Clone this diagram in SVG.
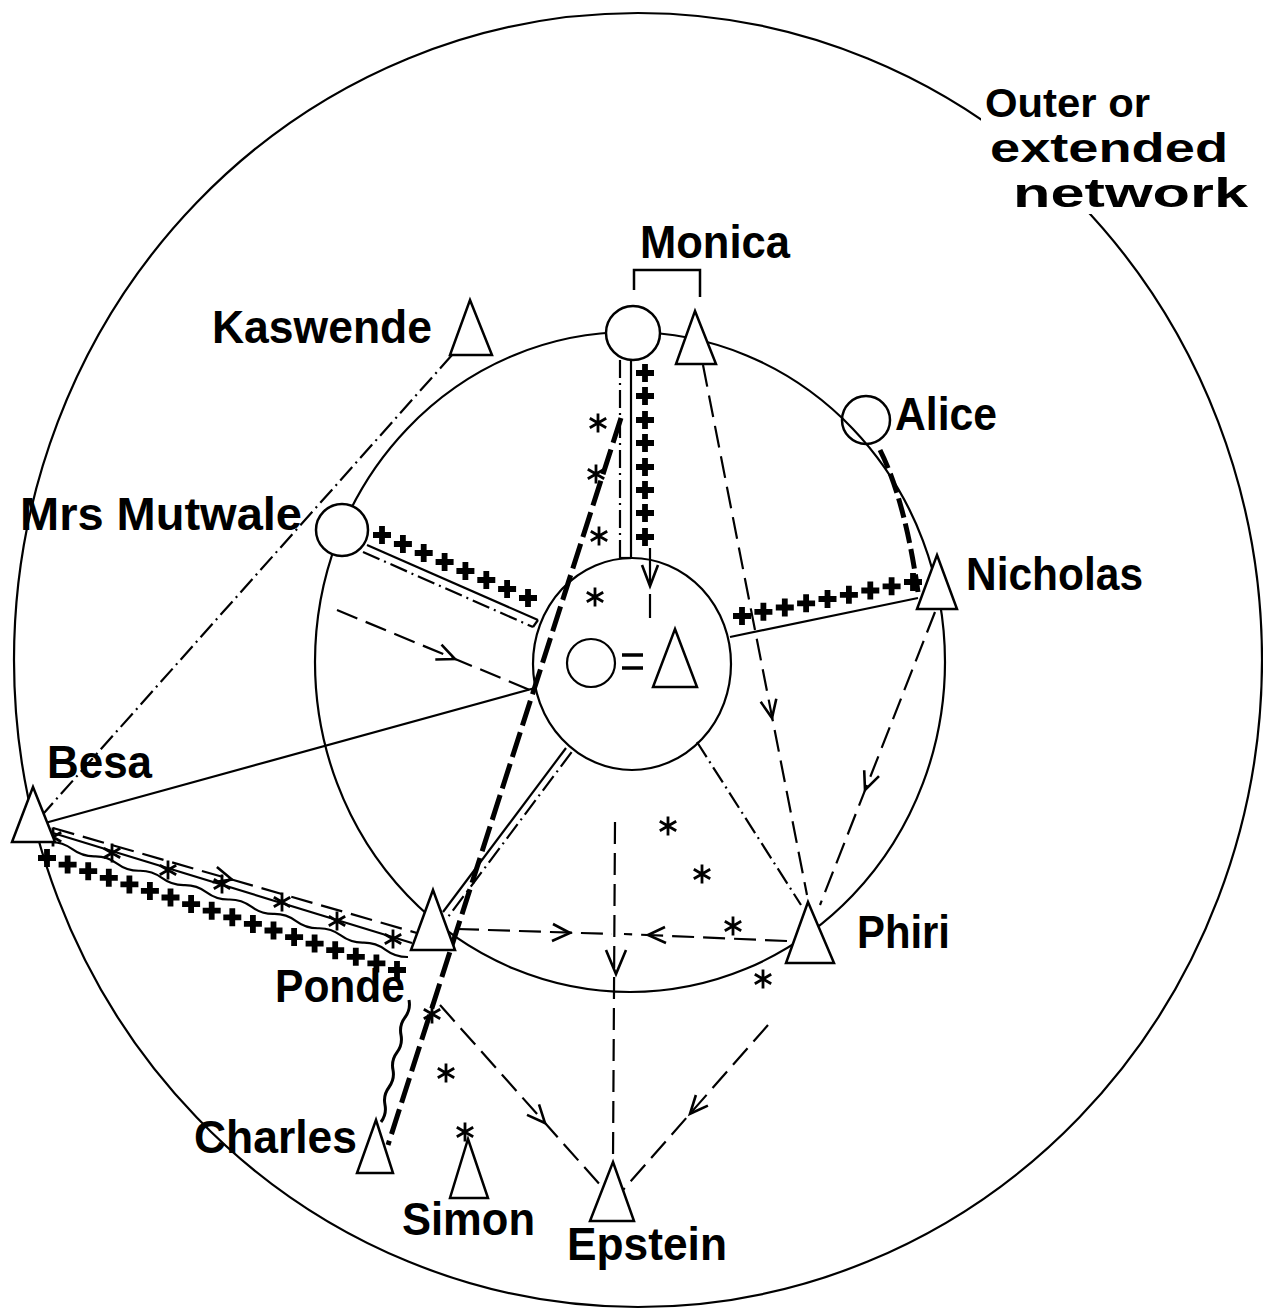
<svg xmlns="http://www.w3.org/2000/svg" xmlns:xlink="http://www.w3.org/1999/xlink" width="1263" height="1312" viewBox="0 0 1263 1312">
<style>
.ln{stroke:#000;stroke-width:2.2;fill:none}
.ds{stroke-dasharray:22 9}
.dd{stroke-dasharray:18 5 2 5}
.hv{stroke:#000;stroke-width:5;fill:none;stroke-dasharray:26 7}
.ar{stroke:#000;stroke-width:2.6;fill:none}
.nd{fill:#fff;stroke:#000;stroke-width:2.5}
.ring{fill:none;stroke:#000;stroke-width:2.2}
text{font-family:"Liberation Sans",Arial,sans-serif;font-weight:bold;font-size:46px;fill:#000}
.ol{font-size:40px}
</style>
<defs>
<path id="pl" d="M-2.9,-9H2.9V-2.9H9V2.9H2.9V9H-2.9V2.9H-9V-2.9H-2.9Z" fill="#000"/>
<path id="as" d="M0,-9.5V9.5M-8.2,-4.7L8.2,4.7M-8.2,4.7L8.2,-4.7" stroke="#000" stroke-width="2.8" fill="none"/>
</defs>
<rect width="1263" height="1312" fill="#fff"/>
<g id="rings">
<ellipse class="ring" cx="638" cy="660" rx="624" ry="647"/>
<ellipse class="ring" cx="630" cy="662" rx="315" ry="330"/>
</g>
<g id="connectors">
<!-- Monica circle to centre -->
<line class="ln dd" x1="620" y1="360" x2="620" y2="558"/>
<line class="ln" x1="631" y1="360" x2="631" y2="558"/>
<line class="ln" x1="620" y1="558" x2="631" y2="558"/>
<g>
<use href="#pl" x="645" y="373"/><use href="#pl" x="645" y="396"/><use href="#pl" x="645" y="420"/><use href="#pl" x="645" y="443"/><use href="#pl" x="645" y="467"/><use href="#pl" x="645" y="490"/><use href="#pl" x="645" y="513"/><use href="#pl" x="645" y="537"/>
</g>
<line class="ln" x1="650" y1="548" x2="650" y2="584"/>
<path class="ar" d="M642,565 L650,586 L658,565"/>
<line class="ln" x1="650" y1="594" x2="650" y2="618"/>
<!-- Mrs Mutwale to centre -->
<line class="ln" x1="367" y1="545" x2="538" y2="620"/>
<line class="ln dd" x1="363" y1="552" x2="533" y2="627"/>
<line class="ln" x1="533" y1="627" x2="538" y2="620"/>
<g>
<use href="#pl" x="382" y="535"/><use href="#pl" x="402.9" y="544"/><use href="#pl" x="423.7" y="553"/><use href="#pl" x="444.6" y="562"/><use href="#pl" x="465.4" y="571"/><use href="#pl" x="486.3" y="580"/><use href="#pl" x="507.1" y="589"/><use href="#pl" x="528" y="598"/>
</g>
<line class="ln ds" x1="337" y1="610" x2="530" y2="690"/>
<path class="ar" d="M441.5,644.7 L455,659 L435.3,659.5"/>
<!-- Kaswende to Besa -->
<line class="ln dd" x1="452" y1="355" x2="36" y2="822"/>
<!-- Besa to centre -->
<line class="ln" x1="45" y1="823" x2="535" y2="688"/>
<!-- Besa to Ponde -->
<line class="ln ds" x1="53" y1="828" x2="417" y2="933"/>
<path class="ar" d="M216.9,866.9 L232,879.6 L212.5,882.3"/>
<line class="ln" x1="53" y1="833" x2="412" y2="943"/>
<path class="ln" transform="translate(50,842) rotate(17.81)" d="M0,0 Q11.75,-4 23.5,0 T47,0 T70.5,0 T94,0 T117.5,0 T141,0 T164.5,0 T188,0 T211.5,0 T235,0 T258.5,0 T282,0 T305.5,0 T329,0 T352.5,0 T376,0"/>
<g>
<use href="#as" x="53" y="837"/><use href="#as" x="112" y="853"/><use href="#as" x="168" y="870"/><use href="#as" x="222" y="884"/><use href="#as" x="282" y="902"/><use href="#as" x="337" y="921"/><use href="#as" x="393" y="939"/>
</g>
<g>
<use href="#pl" x="47" y="858"/><use href="#pl" x="67.6" y="864.6"/><use href="#pl" x="88.2" y="871.2"/><use href="#pl" x="108.8" y="877.8"/><use href="#pl" x="129.4" y="884.4"/><use href="#pl" x="149.9" y="890.9"/><use href="#pl" x="170.5" y="897.5"/><use href="#pl" x="191.1" y="904.1"/><use href="#pl" x="211.7" y="910.7"/><use href="#pl" x="232.3" y="917.3"/><use href="#pl" x="252.9" y="923.9"/><use href="#pl" x="273.5" y="930.5"/><use href="#pl" x="294.1" y="937.1"/><use href="#pl" x="314.6" y="943.6"/><use href="#pl" x="335.2" y="950.2"/><use href="#pl" x="355.8" y="956.8"/><use href="#pl" x="376.4" y="963.4"/><use href="#pl" x="397" y="970"/>
</g>
<!-- centre to Ponde double line -->
<line class="ln" x1="566" y1="748" x2="443" y2="912"/>
<line class="ln dd" x1="571.6" y1="752.2" x2="448.6" y2="916.2"/>
<!-- heavy line Monica area to Charles -->
<line class="hv" x1="621" y1="418" x2="388" y2="1145"/>
<g>
<use href="#as" x="598" y="423"/><use href="#as" x="596" y="474"/><use href="#as" x="599" y="536"/><use href="#as" x="595" y="597"/>
</g>
<path class="ln" style="stroke-width:3" transform="translate(409,1000) rotate(102.93)" d="M0,0 Q8.9,-4 17.9,0 T35.8,0 T53.7,0 T71.6,0 T89.5,0 T107.4,0 T125.2,0"/>
<g>
<use href="#as" x="432" y="1014"/><use href="#as" x="446" y="1073"/><use href="#as" x="465" y="1132"/>
</g>
<g>
<use href="#as" x="668" y="826"/><use href="#as" x="702" y="874"/><use href="#as" x="733" y="926"/><use href="#as" x="763" y="979"/>
</g>
<!-- Nicholas to centre -->
<line class="ln" x1="730" y1="637" x2="918" y2="598"/>
<g>
<use href="#pl" x="742" y="616"/><use href="#pl" x="763.4" y="611.8"/><use href="#pl" x="784.8" y="607.5"/><use href="#pl" x="806.1" y="603.3"/><use href="#pl" x="827.5" y="599"/><use href="#pl" x="848.9" y="594.8"/><use href="#pl" x="870.3" y="590.5"/><use href="#pl" x="891.6" y="586.3"/><use href="#pl" x="913" y="582"/>
</g>
<!-- Alice to Nicholas -->
<path class="hv" style="stroke-dasharray:20 6" d="M880,450 Q905,500 918,592"/>
<!-- Monica triangle to Phiri -->
<line class="ln ds" x1="703" y1="365" x2="807" y2="895"/>
<path class="ar" d="M760.7,701.8 L772,718 L776.3,698.8"/>
<!-- Nicholas to Phiri -->
<line class="ln ds" x1="935" y1="612" x2="820" y2="905"/>
<path class="ar" d="M864.2,770.3 L865,790 L879,776.1"/>
<!-- centre to Phiri -->
<line class="ln dd" x1="697" y1="742" x2="801" y2="905"/>
<!-- Ponde to middle, Phiri to middle -->
<line class="ln ds" x1="457" y1="929" x2="612" y2="934"/>
<path class="ar" d="M553,924 L570,933 L552,941"/>
<line class="ln ds" x1="787" y1="941" x2="624" y2="934"/>
<path class="ar" d="M665,927 L648,935 L666,943"/>
<!-- centre down to Epstein -->
<line class="ln ds" x1="615" y1="822" x2="613" y2="1162"/>
<path class="ar" d="M606,950 L616,974 L626,950"/>
<!-- Phiri to Epstein -->
<line class="ln ds" x1="768" y1="1025" x2="623" y2="1190"/>
<path class="ar" d="M695.9,1095 L690,1113.8 L707.9,1105.6"/>
<!-- Ponde to Epstein -->
<line class="ln ds" x1="440" y1="1005" x2="602" y2="1187"/>
<path class="ar" d="M527,1114.9 L545,1123 L539,1104.3"/>
</g>
<g id="centre">
<ellipse cx="632" cy="664" rx="99" ry="106" fill="none" stroke="#000" stroke-width="2.2"/>
<circle cx="591" cy="663" r="24" fill="none" stroke="#000" stroke-width="2.2"/>
<path d="M622,655H643M622,668H643" stroke="#000" stroke-width="3.5"/>
<path d="M675,629 L697,687 L653,687 Z" fill="#fff" stroke="#000" stroke-width="2.5"/>
</g>
<g id="monica">
<circle class="nd" cx="633" cy="333" r="27"/>
<path class="nd" d="M695,311 L716,364 L676,364 Z"/>
<path d="M634,290 V270 H700 V297" fill="none" stroke="#000" stroke-width="2.5"/>
<text x="640" y="258" textLength="150" lengthAdjust="spacingAndGlyphs">Monica</text>
</g>
<g id="kaswende">
<path class="nd" d="M470,300 L492,355 L450,355 Z"/>
<text x="212" y="343" textLength="220" lengthAdjust="spacingAndGlyphs">Kaswende</text>
</g>
<g id="alice">
<circle cx="866" cy="420" r="24" fill="none" stroke="#000" stroke-width="2.5"/>
<text x="895" y="430" textLength="102" lengthAdjust="spacingAndGlyphs">Alice</text>
</g>
<g id="mrs-mutwale">
<circle class="nd" cx="342" cy="530" r="26"/>
<text x="20" y="530" textLength="282" lengthAdjust="spacingAndGlyphs">Mrs Mutwale</text>
</g>
<g id="nicholas">
<path class="nd" d="M937,555 L957,609 L917,609 Z"/>
<text x="966" y="590" textLength="177" lengthAdjust="spacingAndGlyphs">Nicholas</text>
</g>
<g id="besa">
<path class="nd" d="M33,787 L55,842 L12,842 Z"/>
<text x="47" y="778" textLength="105" lengthAdjust="spacingAndGlyphs">Besa</text>
</g>
<g id="ponde">
<path class="nd" d="M433,890 L455,950 L411,950 Z"/>
<text x="275" y="1002" textLength="130" lengthAdjust="spacingAndGlyphs">Ponde</text>
</g>
<g id="phiri">
<path class="nd" d="M808,902 L834,963 L786,963 Z"/>
<text x="857" y="948" textLength="93" lengthAdjust="spacingAndGlyphs">Phiri</text>
</g>
<g id="charles">
<path class="nd" d="M376,1120 L393,1173 L357,1173 Z"/>
<text x="194" y="1153" textLength="163" lengthAdjust="spacingAndGlyphs">Charles</text>
</g>
<g id="simon">
<path class="nd" d="M468,1139 L488,1198 L450,1198 Z"/>
<text x="402" y="1235" textLength="133" lengthAdjust="spacingAndGlyphs">Simon</text>
</g>
<g id="epstein">
<path class="nd" d="M613,1162 L634,1221 L590,1221 Z"/>
<text x="567" y="1260" textLength="160" lengthAdjust="spacingAndGlyphs">Epstein</text>
</g>
<g id="outer-label">
<rect x="981" y="80" width="275" height="134" fill="#fff"/>
<text class="ol" x="985" y="117" textLength="165" lengthAdjust="spacingAndGlyphs">Outer or</text>
<text class="ol" x="990" y="162" textLength="238" lengthAdjust="spacingAndGlyphs">extended</text>
<text class="ol" x="1013" y="207" textLength="235" lengthAdjust="spacingAndGlyphs">network</text>
</g>
</svg>
